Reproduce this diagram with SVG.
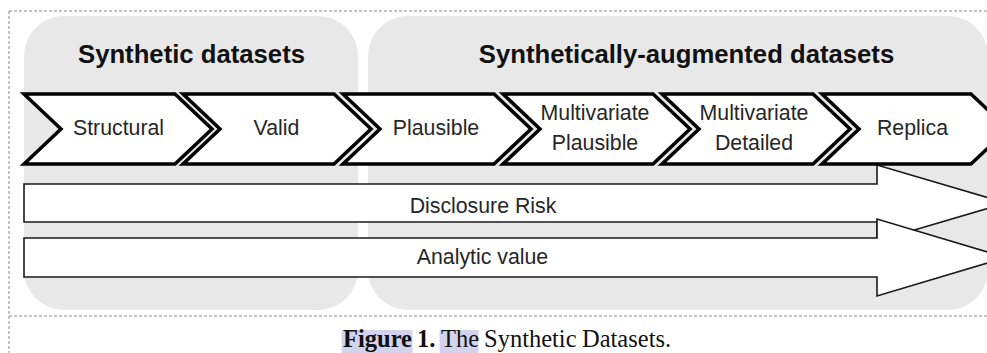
<svg xmlns="http://www.w3.org/2000/svg" width="987" height="353" viewBox="0 0 987 353">
<style>
.frame{fill:none;stroke:#8a8a8a;stroke-width:1;stroke-dasharray:3 2}
.panel{fill:#e8e8e8}
.title{font-family:"Liberation Sans",Arial,sans-serif;font-weight:bold;font-size:25.7px;fill:#111;text-anchor:middle}
.chev{fill:#fff;stroke:#000;stroke-width:3.5;stroke-linejoin:miter;stroke-miterlimit:10}
.lbl{font-family:"Liberation Sans",Arial,sans-serif;font-size:21.3px;fill:#262626;text-anchor:middle}
.arrow{fill:#fff;stroke:#1a1a1a;stroke-width:1.6;stroke-linejoin:miter}
.cap{font-family:"Liberation Serif","Times New Roman",serif;font-size:24.5px;fill:#111}
.hl{fill:#d3d3ee}
</style>
<g id="frame">
<line class="frame" x1="9" y1="11" x2="987" y2="11"/>
<line class="frame" x1="9" y1="11" x2="9" y2="353"/>
<line class="frame" x1="9" y1="316" x2="987" y2="316"/>
</g>
<g id="panel-synthetic">
<rect class="panel" x="24" y="16" width="334" height="294" rx="40" ry="40"/>
<text class="title" x="191.5" y="63">Synthetic datasets</text>
</g>
<g id="panel-augmented">
<rect class="panel" x="368" y="16" width="620" height="294" rx="40" ry="40"/>
<text class="title" x="686.5" y="63">Synthetically-augmented datasets</text>
</g>
<g id="arrow-disclosure">
<path class="arrow" d="M24,184 H877 V165 L1006,203 L877,241 V222 H24 Z"/>
<text class="lbl" x="483" y="213">Disclosure Risk</text>
</g>
<g id="arrow-analytic">
<path class="arrow" d="M24,238 H877 V219 L1006,257.5 L877,296 V277 H24 Z"/>
<text class="lbl" x="482.5" y="264">Analytic value</text>
</g>
<g id="chevron-structural">
<path class="chev" d="M24,94 H175 L212,129 L175,164 H24 L61,129 Z"/>
<text class="lbl" x="118.5" y="135">Structural</text>
</g>
<g id="chevron-valid">
<path class="chev" d="M183,94 H334 L371,129 L334,164 H183 L220,129 Z"/>
<text class="lbl" x="276.5" y="135">Valid</text>
</g>
<g id="chevron-plausible">
<path class="chev" d="M343,94 H494 L531,129 L494,164 H343 L380,129 Z"/>
<text class="lbl" x="436" y="135">Plausible</text>
</g>
<g id="chevron-multivariate-plausible">
<path class="chev" d="M503,94 H653 L690,129 L653,164 H503 L540,129 Z"/>
<text class="lbl" x="595" y="120">Multivariate</text>
<text class="lbl" x="595" y="150">Plausible</text>
</g>
<g id="chevron-multivariate-detailed">
<path class="chev" d="M662,94 H813 L850,129 L813,164 H662 L699,129 Z"/>
<text class="lbl" x="754" y="120">Multivariate</text>
<text class="lbl" x="754" y="150">Detailed</text>
</g>
<g id="chevron-replica">
<path class="chev" d="M822,94 H971 L1008,129 L971,164 H822 L859,129 Z"/>
<text class="lbl" x="912.5" y="135">Replica</text>
</g>
<g id="caption">
<rect class="hl" x="341.5" y="330" width="71" height="23"/>
<rect class="hl" x="439.5" y="330" width="39" height="23"/>
<text class="cap" y="347"><tspan x="343" font-weight="bold">Figure</tspan><tspan x="417" font-weight="bold">1.</tspan><tspan x="441">The</tspan><tspan x="484">Synthetic</tspan><tspan x="582">Datasets.</tspan></text>
</g>
</svg>
